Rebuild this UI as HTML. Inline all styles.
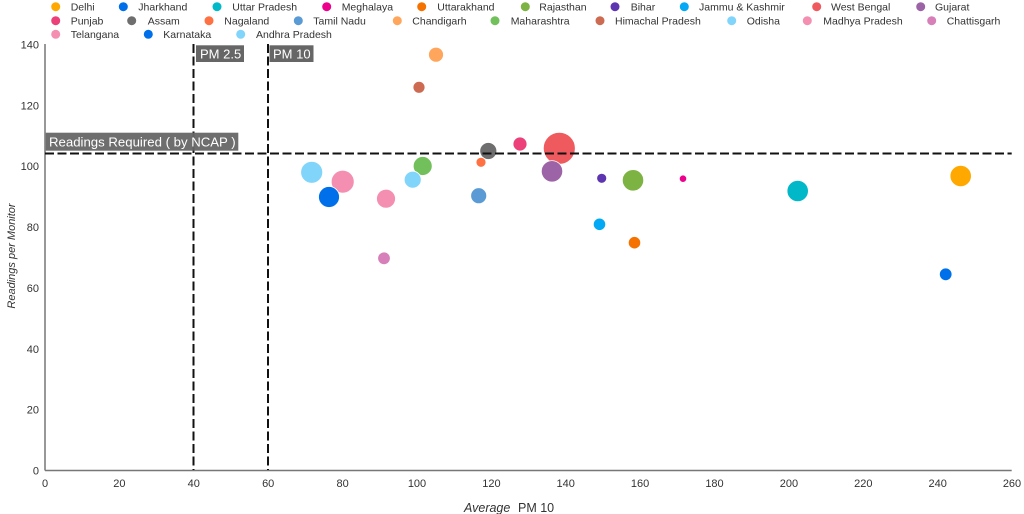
<!DOCTYPE html>
<html><head><meta charset="utf-8"><style>
html,body{margin:0;padding:0;background:#fff;}
svg{display:block;font-family:"Liberation Sans",Arial,sans-serif;}
</style></head><body>
<svg width="1024" height="514" viewBox="0 0 1024 514" xmlns="http://www.w3.org/2000/svg">
<rect width="1024" height="514" fill="#fff"/>
<!-- Legend -->
<g font-size="10.5" fill="#333">
<circle cx="55.7" cy="6.7" r="4.5" fill="#ffa800"/><text x="70.7" y="10.5">Delhi</text>
<circle cx="123.3" cy="6.7" r="4.5" fill="#0070ea"/><text x="138.3" y="10.5">Jharkhand</text>
<circle cx="217" cy="6.7" r="4.5" fill="#00bac9"/><text x="232.3" y="10.5">Uttar Pradesh</text>
<circle cx="326.7" cy="6.7" r="4.5" fill="#ec008c"/><text x="341.7" y="10.5">Meghalaya</text>
<circle cx="421.7" cy="6.7" r="4.5" fill="#f57200"/><text x="437.3" y="10.5">Uttarakhand</text>
<circle cx="525.3" cy="6.7" r="4.5" fill="#7cb342"/><text x="539.3" y="10.5">Rajasthan</text>
<circle cx="615" cy="6.7" r="4.5" fill="#5e35b1"/><text x="630.7" y="10.5">Bihar</text>
<circle cx="684.3" cy="6.7" r="4.5" fill="#03a9f4"/><text x="699" y="10.5">Jammu &amp; Kashmir</text>
<circle cx="816.7" cy="6.7" r="4.5" fill="#ef5a5f"/><text x="831" y="10.5">West Bengal</text>
<circle cx="920.7" cy="6.7" r="4.5" fill="#9c64a6"/><text x="935" y="10.5">Gujarat</text>

<circle cx="55.7" cy="20.7" r="4.5" fill="#ec407a"/><text x="70.7" y="24.5">Punjab</text>
<circle cx="131.7" cy="20.7" r="4.5" fill="#6e6e6e"/><text x="147.7" y="24.5">Assam</text>
<circle cx="209" cy="20.7" r="4.5" fill="#ff7043"/><text x="224.3" y="24.5">Nagaland</text>
<circle cx="298.3" cy="20.7" r="4.5" fill="#5b9bd5"/><text x="313.3" y="24.5">Tamil Nadu</text>
<circle cx="397.3" cy="20.7" r="4.5" fill="#ffa65c"/><text x="412.3" y="24.5">Chandigarh</text>
<circle cx="495" cy="20.7" r="4.5" fill="#72c05b"/><text x="510.7" y="24.5">Maharashtra</text>
<circle cx="600" cy="20.7" r="4.5" fill="#cd6a52"/><text x="615" y="24.5">Himachal Pradesh</text>
<circle cx="731.7" cy="20.7" r="4.5" fill="#81d4fa"/><text x="746.7" y="24.5">Odisha</text>
<circle cx="807.3" cy="20.7" r="4.5" fill="#f48fb1"/><text x="823.3" y="24.5">Madhya Pradesh</text>
<circle cx="931.7" cy="20.7" r="4.5" fill="#d67fb8"/><text x="946.7" y="24.5">Chattisgarh</text>

<circle cx="55.7" cy="34.3" r="4.5" fill="#f48fb1"/><text x="70.7" y="38.1">Telangana</text>
<circle cx="148.3" cy="34.3" r="4.5" fill="#0070ea"/><text x="163.3" y="38.1">Karnataka</text>
<circle cx="240.7" cy="34.3" r="4.5" fill="#81d4fa"/><text x="256" y="38.1">Andhra Pradesh</text>
</g>

<!-- Axes -->
<line x1="45" y1="44" x2="45" y2="470.5" stroke="#777" stroke-width="1.5"/>
<line x1="45" y1="470.5" x2="1011.7" y2="470.5" stroke="#777" stroke-width="1.5"/>

<!-- Y tick labels -->
<g font-size="11" fill="#333" text-anchor="end">
<text x="39" y="474.5">0</text>
<text x="39" y="413.6">20</text>
<text x="39" y="352.8">40</text>
<text x="39" y="291.9">60</text>
<text x="39" y="231">80</text>
<text x="39" y="170.2">100</text>
<text x="39" y="109.3">120</text>
<text x="39" y="48.5">140</text>
</g>
<!-- X tick labels -->
<g font-size="11" fill="#333" text-anchor="middle">
<text x="45" y="487">0</text>
<text x="119.4" y="487">20</text>
<text x="193.8" y="487">40</text>
<text x="268.2" y="487">60</text>
<text x="342.6" y="487">80</text>
<text x="417" y="487">100</text>
<text x="491.4" y="487">120</text>
<text x="565.7" y="487">140</text>
<text x="640.1" y="487">160</text>
<text x="714.5" y="487">180</text>
<text x="788.9" y="487">200</text>
<text x="863.3" y="487">220</text>
<text x="937.7" y="487">240</text>
<text x="1012" y="487">260</text>
</g>

<!-- Axis titles -->
<text transform="translate(15,256) rotate(-90)" font-size="11" font-style="italic" fill="#333" text-anchor="middle">Readings per Monitor</text>
<text x="464" y="512" font-size="12.5" font-style="italic" fill="#333">Average</text>
<text x="518" y="512" font-size="12.5" fill="#333">PM 10</text>

<!-- Bubbles -->
<g stroke="#fff" stroke-width="0.8">
<circle cx="559.3" cy="148.3" r="16" fill="#ef5a5f"/>
<circle cx="436" cy="54.7" r="7.5" fill="#ffa65c"/>
<circle cx="419" cy="87.3" r="6" fill="#cd6a52"/>
<circle cx="520" cy="144" r="7" fill="#ec407a"/>
<circle cx="488.3" cy="151" r="8.5" fill="#6e6e6e"/>
<circle cx="481" cy="162.3" r="5" fill="#ff7043"/>
<circle cx="552" cy="171.3" r="10.7" fill="#9c64a6"/>
<circle cx="601.7" cy="178.3" r="5" fill="#5e35b1"/>
<circle cx="633" cy="180.3" r="10.7" fill="#7cb342"/>
<circle cx="683" cy="178.7" r="3.7" fill="#ec008c"/>
<circle cx="797.7" cy="191" r="10.7" fill="#00b8c8"/>
<circle cx="960.7" cy="176" r="10.7" fill="#ffa800"/>
<circle cx="945.7" cy="274.3" r="6.3" fill="#0070ea"/>
<circle cx="599.5" cy="224.3" r="6.2" fill="#03a9f4"/>
<circle cx="634.5" cy="242.7" r="6.2" fill="#f57200"/>
<circle cx="422.7" cy="166" r="9.5" fill="#72c05b"/>
<circle cx="412.7" cy="179.7" r="8.5" fill="#81d4fa"/>
<circle cx="311.7" cy="172.3" r="11" fill="#81d4fa"/>
<circle cx="342.7" cy="181.7" r="11.5" fill="#f48fb1"/>
<circle cx="329" cy="197" r="10.5" fill="#0070ea"/>
<circle cx="386" cy="198.7" r="9.5" fill="#f48fb1"/>
<circle cx="478.7" cy="195.7" r="8" fill="#5b9bd5"/>
<circle cx="384" cy="258.3" r="6.3" fill="#d67fb8"/>
</g>

<!-- Reference lines -->
<g stroke="#111" stroke-width="2" stroke-dasharray="9,3.5" fill="none">
<line x1="45" y1="153.5" x2="1011.7" y2="153.5"/>
<line x1="193.5" y1="44" x2="193.5" y2="470"/>
<line x1="268" y1="44" x2="268" y2="470"/>
</g>

<!-- Annotation labels -->
<rect x="196" y="45.3" width="48" height="16.7" fill="#666"/>
<text x="200" y="58.3" font-size="13" fill="#fff">PM 2.5</text>
<rect x="269.5" y="45.3" width="44" height="16.7" fill="#666"/>
<text x="273" y="58.3" font-size="13" fill="#fff">PM 10</text>
<rect x="45.7" y="132.7" width="192.6" height="18" fill="#666" opacity="0.95"/>
<text x="49" y="146.5" font-size="13.2" fill="#fff">Readings Required ( by NCAP )</text>
</svg>
</body></html>
